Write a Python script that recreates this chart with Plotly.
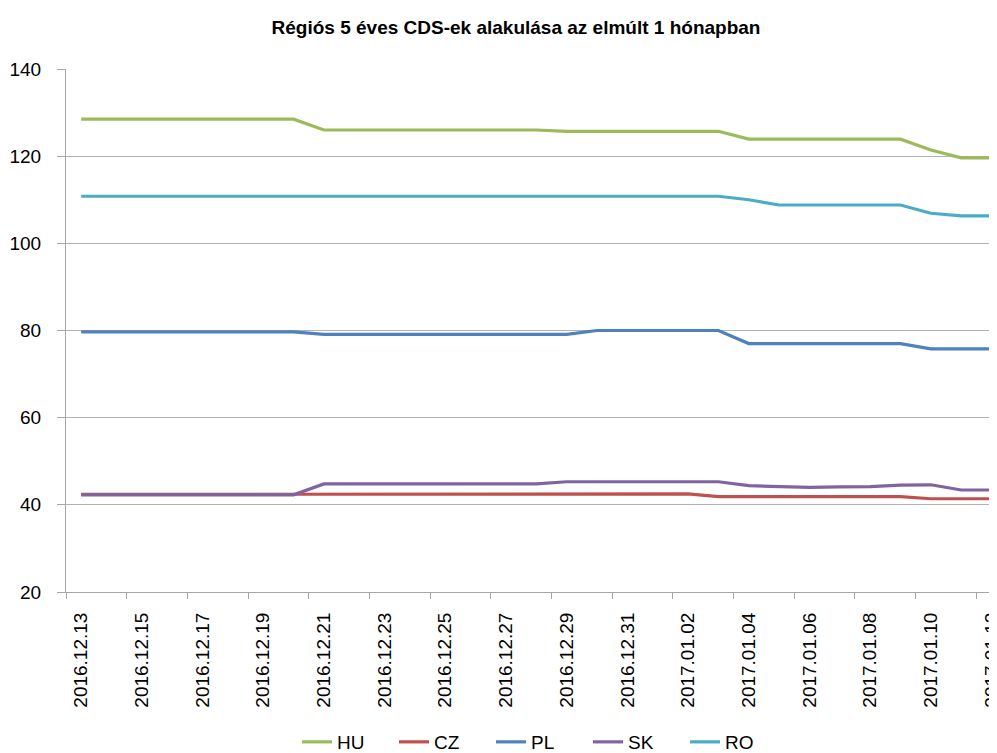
import plotly.graph_objects as go

dates = [
    "2016.12.13", "2016.12.14", "2016.12.15", "2016.12.16", "2016.12.17", "2016.12.18",
    "2016.12.19", "2016.12.20", "2016.12.21", "2016.12.22", "2016.12.23", "2016.12.24",
    "2016.12.25", "2016.12.26", "2016.12.27", "2016.12.28", "2016.12.29", "2016.12.30",
    "2016.12.31", "2017.01.01", "2017.01.02", "2017.01.03", "2017.01.04", "2017.01.05",
    "2017.01.06", "2017.01.07", "2017.01.08", "2017.01.09", "2017.01.10", "2017.01.11",
    "2017.01.12",
]

hu = [128.5] * 8 + [126.0] * 8 + [125.7] * 6 + [123.9] * 6 + [121.4, 119.6, 119.6]
cz = [42.4] * 8 + [42.5] * 13 + [41.9] * 7 + [41.4, 41.4, 41.4]
pl = [79.7] * 8 + [79.1] * 9 + [80.0] * 5 + [77.0] * 6 + [75.8, 75.8, 75.8]
sk = [42.3] * 8 + [44.8] * 8 + [45.3] * 6 + [44.4, 44.2, 44.0, 44.1, 44.2, 44.5, 44.6, 43.4, 43.4]
ro = [110.8] * 22 + [110.0] + [108.8] * 5 + [106.9, 106.3, 106.3]

series = [("HU", hu, "#9BBB59"), ("CZ", cz, "#C0504D"), ("PL", pl, "#4F81BD"),
          ("SK", sk, "#8064A2"), ("RO", ro, "#4BACC6")]

y_ticks = [20, 40, 60, 80, 100, 120, 140]

idx = list(range(len(dates)))
label_idx = idx[::2]
boundary_ticks = [i - 0.5 for i in range(0, len(dates) + 1, 2)]

fig = go.Figure()
for name, vals, color in series:
    fig.add_trace(go.Scatter(x=idx, y=vals, name=name, mode="lines",
                             line=dict(color=color, width=3.2)))

# page body has an 8px margin, so the figure is sized to the visible 989x745 area
W, H = 989, 745
font_family = "Liberation Sans, Arial, sans-serif"
fig.update_layout(
    width=W, height=H,
    margin=dict(l=58, r=0, t=61, b=161, autoexpand=False),
    paper_bgcolor="white", plot_bgcolor="white",
    font=dict(family=font_family, size=19, color="#000000"),
    title=dict(text="<b>Régiós 5 éves CDS-ek alakulása az elmúlt 1 hónapban</b>",
               x=(516 - 8) / W, xanchor="center", y=1 - 19 / H, yanchor="middle",
               font=dict(family=font_family, size=19, color="#000000")),
    showlegend=True,
    legend=dict(orientation="h", x=(297 - 66) / 931, xanchor="left",
                y=(584 - 734) / 523, yanchor="middle",
                entrywidth=52, entrywidthmode="pixels",
                font=dict(size=19), bgcolor="rgba(0,0,0,0)"),
)
fig.update_xaxes(
    range=[-0.5, 30.18], automargin=False,
    tickmode="array", tickvals=label_idx, ticktext=[dates[i] for i in label_idx],
    tickangle=-90, ticks="outside", ticklen=0,
    ticklabelstandoff=12, ticklabeloverflow="allow",
    showgrid=False, zeroline=False,
    showline=True, linecolor="#A6A6A6", linewidth=1,
    minor=dict(tickmode="array", tickvals=boundary_ticks, ticks="outside",
               ticklen=6, tickcolor="#A6A6A6", showgrid=False),
    tickfont=dict(size=19),
)
fig.update_yaxes(
    range=[20, 140], tickmode="array", tickvals=y_ticks, automargin=False,
    ticks="outside", ticklen=8, tickcolor="#A6A6A6",
    showgrid=True, gridcolor="#B3B3B3", gridwidth=1,
    zeroline=False, showline=True, linecolor="#A6A6A6", linewidth=1,
    ticklabelstandoff=12, tickfont=dict(size=19),
)

fig.write_html("out.html")
